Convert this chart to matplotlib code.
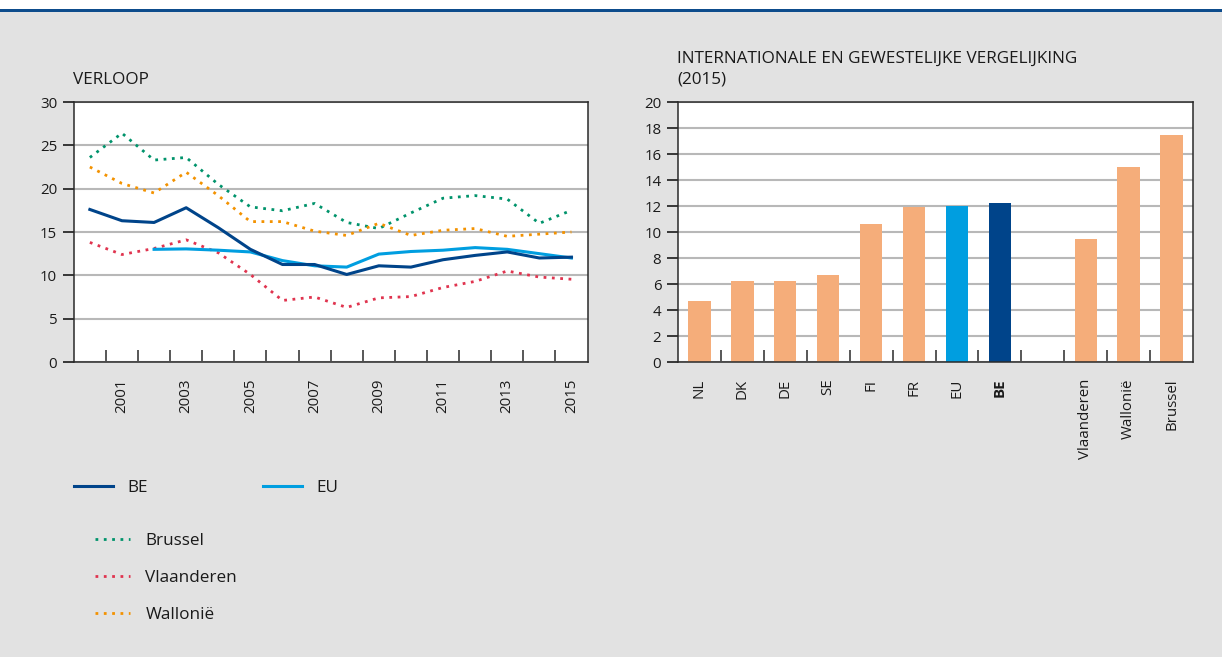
import matplotlib
matplotlib.use("Agg")
import matplotlib.pyplot as plt
from matplotlib.lines import Line2D
from matplotlib.patches import Rectangle
import numpy as np

plt.rcParams['font.family'] = ['Open Sans', 'DejaVu Sans']

# ---------------- data ----------------
years = list(range(2000, 2016))
be = [17.6, 16.3, 16.1, 17.8, 15.5, 13.0, 11.25, 11.25, 10.1, 11.1, 10.95, 11.8, 12.3, 12.7, 12.0, 12.1]
eu_years = list(range(2002, 2016))
eu = [13.0, 13.05, 12.9, 12.7, 11.7, 11.1, 10.95, 12.45, 12.75, 12.9, 13.2, 13.0, 12.5, 12.0]
brussel = [23.6, 26.4, 23.3, 23.6, 20.5, 17.9, 17.45, 18.3, 16.1, 15.4, 17.2, 18.9, 19.2, 18.8, 16.0, 17.5]
vlaanderen = [13.8, 12.4, 13.1, 14.1, 12.6, 10.1, 7.1, 7.5, 6.3, 7.4, 7.55, 8.6, 9.3, 10.5, 9.8, 9.55]
wallonie = [22.5, 20.6, 19.5, 21.9, 19.2, 16.2, 16.2, 15.1, 14.6, 16.0, 14.6, 15.2, 15.4, 14.5, 14.75, 15.0]

bar_labels = ['NL', 'DK', 'DE', 'SE', 'FI', 'FR', 'EU', 'BE', '', 'Vlaanderen', 'Wallonië', 'Brussel']
bar_values = [4.7, 6.25, 6.25, 6.7, 10.65, 11.95, 12.0, 12.25, 0, 9.45, 15.0, 17.5]

# ---------------- style ----------------
BG = '#e2e2e2'
C_BE = '#00448a'
C_EU = '#009ee0'
C_BR = '#00936b'
C_VL = '#e0344f'
C_WA = '#f39200'
C_BAR = '#f5ad7a'
GRID = '#b8b8b8'
SPINE = '#2a2a2a'
TXT = '#1a1a1a'
FS = 10.8
FS_T = 12.3

fig = plt.figure(figsize=(12.22, 6.57), dpi=100, facecolor=BG)
# top white band and blue rule
fig.add_artist(Rectangle((0, 1 - 9/657), 1, 9/657, transform=fig.transFigure, color='white', lw=0, zorder=0))
fig.add_artist(Rectangle((0, 1 - 11.5/657), 1, 2.5/657, transform=fig.transFigure, color='#0d4c8c', lw=0, zorder=1))

W, H = 1222, 657
def axrect(x0, x1, ytop, ybot):
    return [x0 / W, 1 - ybot / H, (x1 - x0) / W, (ybot - ytop) / H]

def style_axes(ax):
    ax.set_facecolor('white')
    for s in ax.spines.values():
        s.set_color(SPINE)
        s.set_linewidth(1.1)
        s.set_zorder(5)
    ax.yaxis.grid(True, color=GRID, lw=1.5)
    ax.set_axisbelow(True)
    ax.tick_params(axis='y', direction='out', length=8, width=1.3, color=SPINE,
                   labelsize=FS, labelcolor=TXT, pad=4)
    ax.tick_params(axis='x', which='minor', direction='in', length=9, width=1.1, color=SPINE)
    ax.tick_params(axis='x', which='major', length=0, labelsize=FS, labelcolor=TXT, pad=12)

# ---------------- left: line chart ----------------
ax1 = fig.add_axes(axrect(73.8, 587.5, 102, 362))
style_axes(ax1)
x = np.arange(len(years))
xe = np.array([years.index(y) for y in eu_years])
dot = (0, (1, 2))
ax1.plot(x, brussel, color=C_BR, lw=2, linestyle=dot, label='Brussel')
ax1.plot(x, wallonie, color=C_WA, lw=2, linestyle=dot, label='Wallonië')
ax1.plot(x, vlaanderen, color=C_VL, lw=2, linestyle=dot, label='Vlaanderen')
ax1.plot(xe, eu, color=C_EU, lw=2.2, label='EU')
ax1.plot(x, be, color=C_BE, lw=2.2, label='BE')
ax1.set_xlim(-0.5, len(years) - 0.5)
ax1.set_ylim(0, 30)
ax1.set_yticks(range(0, 31, 5))
ax1.set_xticks(x[1::2])
ax1.set_xticklabels([str(y) for y in years[1::2]], rotation=90)
ax1.set_xticks(np.arange(0.5, len(years) - 1, 1), minor=True)
fig.text(73 / W, 1 - 80 / H, 'VERLOOP', fontsize=FS_T, color=TXT, va='center', ha='left')

# ---------------- right: bar chart ----------------
ax2 = fig.add_axes(axrect(678, 1193, 102, 362))
style_axes(ax2)
xb = np.arange(len(bar_labels))
cols = [C_BAR] * len(bar_labels)
cols[bar_labels.index('EU')] = C_EU
cols[bar_labels.index('BE')] = C_BE
ax2.bar(xb, bar_values, width=0.52, color=cols, zorder=3)
ax2.set_xlim(-0.5, len(bar_labels) - 0.5)
ax2.set_ylim(0, 20)
ax2.set_yticks(range(0, 21, 2))
ax2.set_xticks(xb)
ax2.set_xticklabels(bar_labels, rotation=90)
for t in ax2.get_xticklabels():
    if t.get_text() == 'BE':
        t.set_fontweight('bold')
ax2.set_xticks(np.arange(0.5, len(bar_labels) - 1, 1), minor=True)
fig.text(677 / W, 1 - 59 / H, 'INTERNATIONALE EN GEWESTELIJKE VERGELIJKING',
         fontsize=FS_T, color=TXT, va='center', ha='left')
fig.text(677 / W, 1 - 80 / H, '(2015)', fontsize=FS_T, color=TXT, va='center', ha='left')

# ---------------- legends ----------------
h_be = Line2D([], [], color=C_BE, lw=2.2)
h_eu = Line2D([], [], color=C_EU, lw=2.2)
leg1 = fig.legend([h_be, h_eu], ['BE', 'EU'], ncol=2, loc='center left',
                  bbox_to_anchor=(74 / W, 1 - 488 / H), frameon=False, fontsize=FS_T,
                  handlelength=2.3, handletextpad=0.85, columnspacing=6.7, borderpad=0,
                  borderaxespad=0, labelcolor=TXT)
h_br = Line2D([], [], color=C_BR, lw=2, linestyle=dot)
h_vl = Line2D([], [], color=C_VL, lw=2, linestyle=dot)
h_wa = Line2D([], [], color=C_WA, lw=2, linestyle=dot)
leg2 = fig.legend([h_br, h_vl, h_wa], ['Brussel', 'Vlaanderen', 'Wallonië'], loc='center left',
                  bbox_to_anchor=(95 / W, 1 - 578 / H), frameon=False, fontsize=FS_T,
                  handlelength=2.05, handletextpad=0.9, labelspacing=1.25, borderpad=0,
                  borderaxespad=0, labelcolor=TXT)

fig.savefig('out.png', dpi=100, facecolor=BG)
